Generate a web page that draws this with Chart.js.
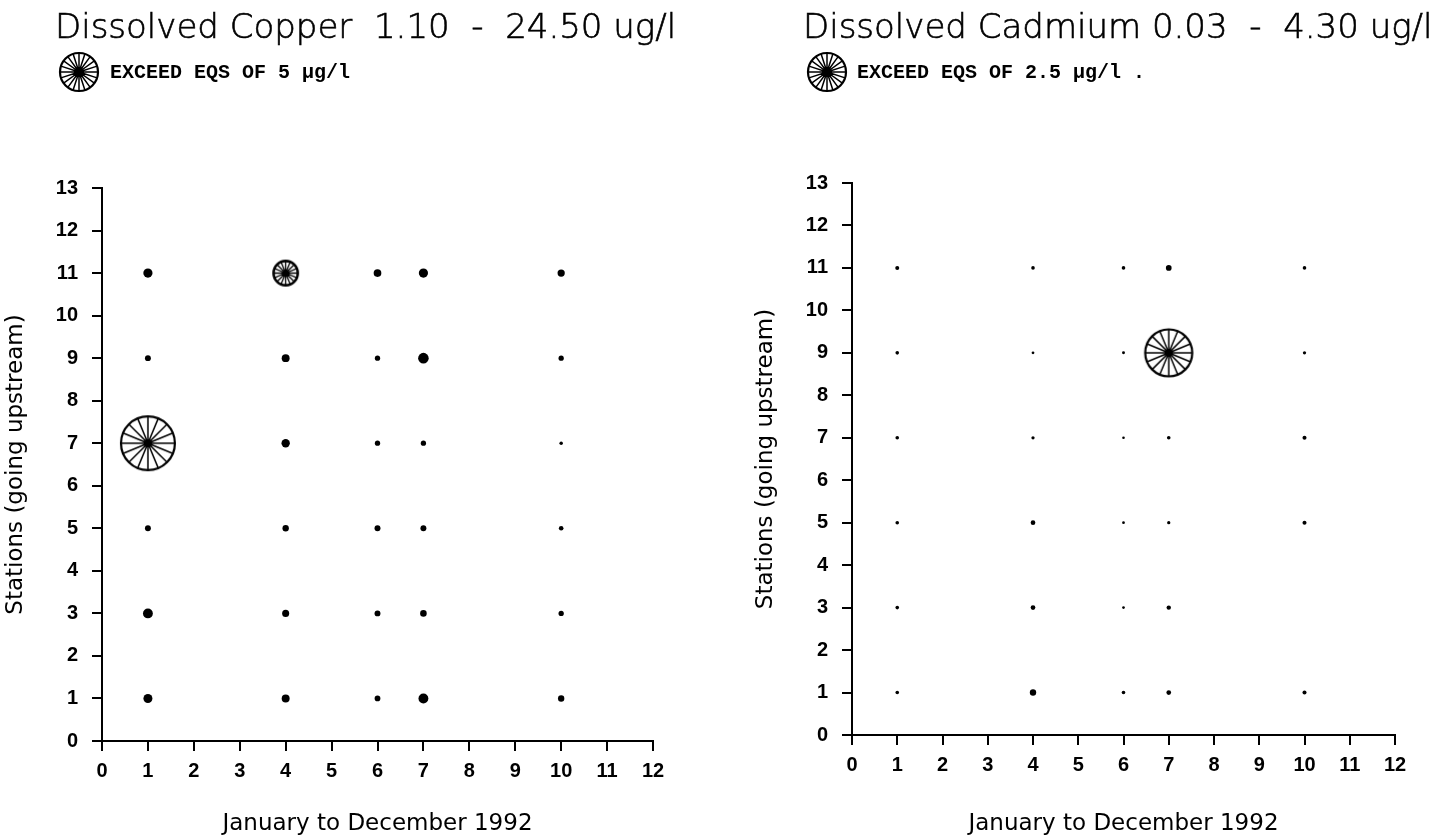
<!DOCTYPE html>
<html>
<head>
<meta charset="utf-8">
<title>Dissolved Copper and Cadmium 1992</title>
<script src="https://cdn.jsdelivr.net/npm/chart.js@4.4.1/dist/chart.umd.min.js"></script>
<style>
  html, body { margin: 0; padding: 0; background: #fff; }
  .panel { position: absolute; top: 0; width: 720px; height: 839px; }
</style>
</head>
<body>
<div class="panel" style="left:0"><canvas id="copperChart" width="720" height="839"></canvas></div>
<div class="panel" style="left:720px"><canvas id="cadmiumChart" width="720" height="839"></canvas></div>
<script>
// sampling months (x) and stations (y)
const MONTHS = [1, 4, 6, 7, 10];
const STATIONS = [1, 3, 5, 7, 9, 11];

// dissolved copper, ug/l, one array per station, columns follow MONTHS
const cuSt1  = [4.1, 3.6, 2.6, 4.5, 2.9];
const cuSt3  = [4.5, 3.2, 2.7, 3.0, 2.4];
const cuSt5  = [2.7, 2.9, 2.7, 2.7, 2.1];
const cuSt7  = [24.5, 3.8, 2.4, 2.4, 1.6];
const cuSt9  = [2.7, 3.6, 2.4, 4.8, 2.4];
const cuSt11 = [4.2, 11.0, 3.5, 4.2, 3.3];

// dissolved cadmium, ug/l (null = no sample)
const cdSt1  = [0.33, 0.58, 0.33, 0.43, 0.37];
const cdSt3  = [0.33, 0.43, 0.25, 0.40, null];
const cdSt5  = [0.33, 0.43, 0.25, 0.30, 0.37];
const cdSt7  = [0.33, 0.30, 0.21, 0.33, 0.37];
const cdSt9  = [0.33, 0.25, 0.27, 4.30, 0.30];
const cdSt11 = [0.37, 0.33, 0.33, 0.52, 0.33];

const xTicks = [0, 1, 2, 3, 4, 5, 6, 7, 8, 9, 10, 11, 12];
const yTicks = [0, 1, 2, 3, 4, 5, 6, 7, 8, 9, 10, 11, 12, 13];

const copperRows = [cuSt1, cuSt3, cuSt5, cuSt7, cuSt9, cuSt11];
const cadmiumRows = [cdSt1, cdSt3, cdSt5, cdSt7, cdSt9, cdSt11];

function toPoints(rows) {
  const pts = [];
  rows.forEach((row, i) => {
    row.forEach((v, j) => {
      if (v !== null) pts.push({ x: MONTHS[j], y: STATIONS[i], v: v });
    });
  });
  return pts;
}

// spoked wheel used for samples above the EQS
const wheelCache = {};
function wheel(r, spokes) {
  spokes = spokes || 16;
  const key = r.toFixed(1) + '-' + spokes;
  if (wheelCache[key]) return wheelCache[key];
  const size = Math.ceil(r * 2 + 6);
  const c = document.createElement('canvas');
  c.width = size;
  c.height = size;
  const g = c.getContext('2d');
  const m = size / 2;
  g.strokeStyle = '#000';
  g.fillStyle = '#000';
  g.lineWidth = r > 15 ? 2.2 : 2.6;
  g.beginPath();
  g.arc(m, m, r, 0, Math.PI * 2);
  g.stroke();
  g.beginPath();
  g.lineWidth = r > 15 ? 1.5 : 1.3;
  for (let i = 0; i < spokes; i++) {
    const a = i * 2 * Math.PI / spokes;
    g.moveTo(m, m);
    g.lineTo(m + r * Math.cos(a), m + r * Math.sin(a));
  }
  g.stroke();
  g.beginPath();
  g.arc(m, m, Math.max(3, r * 0.15), 0, Math.PI * 2);
  g.fill();
  wheelCache[key] = c;
  return c;
}

// title + "exceed EQS" key drawn above the plot
const headerPlugin = {
  id: 'header',
  afterDraw(chart, args, opts) {
    const ctx = chart.ctx;
    ctx.save();
    ctx.fillStyle = '#000';
    ctx.strokeStyle = '#000';
    ctx.textBaseline = 'alphabetic';
    ctx.font = '200 34px "DejaVu Sans", sans-serif';
    ctx.fillText(opts.title, opts.titleX, opts.titleY);
    ctx.lineWidth = 0.6;
    ctx.strokeText(opts.title, opts.titleX, opts.titleY);
    const icon = wheel(opts.iconR, 20);
    ctx.drawImage(icon, opts.iconX - icon.width / 2, opts.iconY - icon.height / 2);
    ctx.font = 'bold 20px "Liberation Mono", monospace';
    ctx.fillText(opts.note, opts.noteX, opts.noteY);
    ctx.restore();
  }
};

function makeChart(id, p) {
  const ctx = document.getElementById(id).getContext('2d');
  const tickFont = { family: 'Liberation Sans', size: 20, weight: 'bold' };
  const titleFont = { family: 'DejaVu Sans', size: 23 };
  const radius = c => c.raw ? Math.max(1.3, c.raw.v * p.pxPerUnit) : 3;
  return new Chart(ctx, {
    type: 'scatter',
    data: {
      datasets: [{
        data: toPoints(p.rows),
        backgroundColor: '#000',
        borderWidth: 0,
        pointRadius: radius,
        pointHoverRadius: radius,
        pointStyle: c => (c.raw && c.raw.v > p.eqs) ? wheel(c.raw.v * p.pxPerUnit) : 'circle'
      }]
    },
    options: {
      responsive: false,
      animation: false,
      layout: { padding: p.padding },
      plugins: {
        legend: { display: false },
        tooltip: {
          callbacks: {
            label: item => 'month ' + item.raw.x + ', station ' + item.raw.y + ': ' + item.raw.v + ' ug/l'
          }
        },
        header: p.header
      },
      scales: {
        x: {
          type: 'linear',
          min: 0,
          max: 12,
          afterBuildTicks: s => { s.ticks = xTicks.map(v => ({ value: v })); },
          afterFit: s => { s.height = p.xHeight; },
          ticks: { color: '#000', font: tickFont, padding: 8, maxRotation: 0 },
          grid: { drawOnChartArea: false, drawTicks: true, tickLength: 10, color: '#000', lineWidth: 2 },
          border: { color: '#000', width: 2 },
          title: { display: true, text: 'January to December 1992', color: '#000', font: titleFont, padding: { bottom: 1 } }
        },
        y: {
          type: 'linear',
          min: 0,
          max: 13,
          afterBuildTicks: s => { s.ticks = yTicks.map(v => ({ value: v })); },
          afterFit: s => { s.width = p.yWidth; },
          ticks: { color: '#000', font: tickFont, padding: 14 },
          grid: { drawOnChartArea: false, drawTicks: true, tickLength: 10, color: '#000', lineWidth: 2 },
          border: { color: '#000', width: 2 },
          title: { display: true, text: 'Stations (going upstream)', color: '#000', font: titleFont, padding: { top: p.yTitlePad } }
        }
      }
    },
    plugins: [headerPlugin]
  });
}

makeChart('copperChart', {
  rows: copperRows,
  eqs: 5,
  pxPerUnit: 1.1,
  padding: { top: 188, left: 0, right: 67, bottom: 0 },
  yWidth: 102,
  yTitlePad: 2,
  xHeight: 98,
  header: {
    title: 'Dissolved Copper  1.10  -  24.50 ug/l',
    titleX: 55, titleY: 38,
    note: 'EXCEED EQS OF 5 \u00b5g/l',
    iconX: 79, iconY: 72, iconR: 19,
    noteX: 110, noteY: 78
  }
});

makeChart('cadmiumChart', {
  rows: cadmiumRows,
  eqs: 2.5,
  pxPerUnit: 5.47,
  padding: { top: 183, left: 30, right: 45, bottom: 0 },
  yWidth: 102,
  yTitlePad: 2,
  xHeight: 104,
  header: {
    title: 'Dissolved Cadmium 0.03  -  4.30 ug/l',
    titleX: 83, titleY: 38,
    note: 'EXCEED EQS OF 2.5 \u00b5g/l .',
    iconX: 107, iconY: 72, iconR: 19,
    noteX: 137, noteY: 78
  }
});
</script>
</body>
</html>
